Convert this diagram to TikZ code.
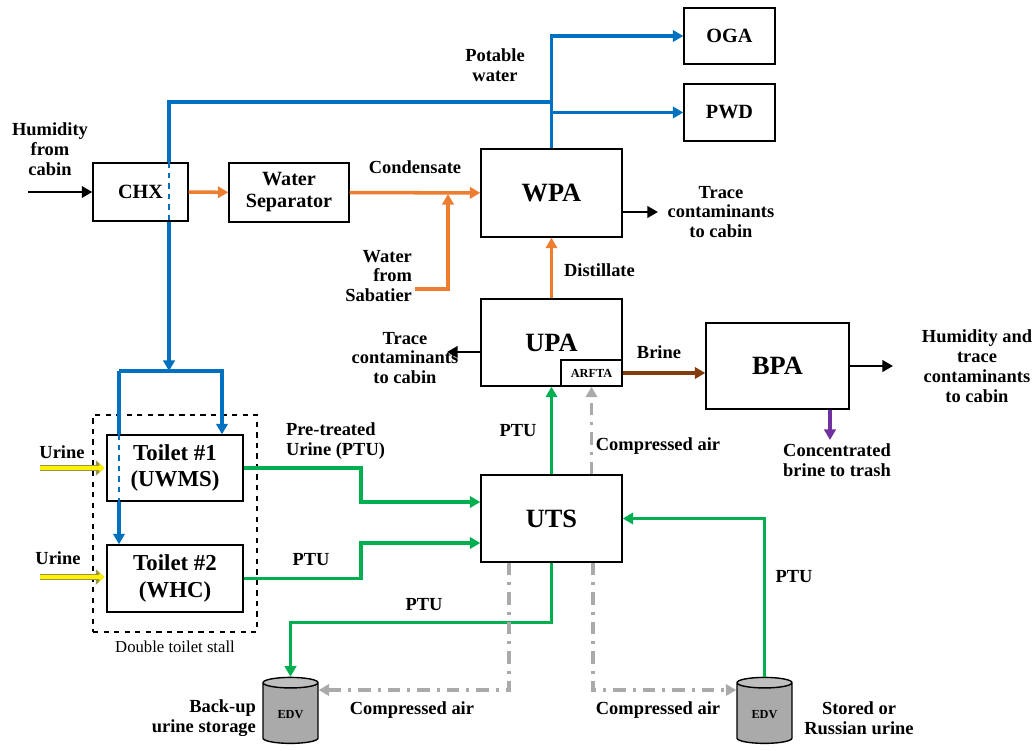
\documentclass[tikz,border=0pt]{standalone}
\usepackage{fontspec}
\setmainfont{Liberation Serif}
\usetikzlibrary{arrows.meta,positioning,calc,shapes.geometric}
\definecolor{h2oblue}{RGB}{0,112,192}
\definecolor{h2oorange}{RGB}{237,125,49}
\definecolor{ptugreen}{RGB}{0,176,80}
\definecolor{brinebrown}{RGB}{133,60,12}
\definecolor{trashpurple}{RGB}{112,48,160}
\definecolor{airgray}{RGB}{170,170,170}

\begin{document}
\begin{tikzpicture}[x=0.02cm, y=-0.02cm,
    box/.style={draw, line width=0.8pt, align=center, font=\fontsize{11.5}{12.5}\selectfont\bfseries},
    big/.style={box, font=\fontsize{15}{17}\selectfont\bfseries},
    toil/.style={box, font=\fontsize{13}{15}\selectfont\bfseries},
    edv/.style={cylinder, shape border rotate=90, aspect=0.28, draw, line width=0.8pt, cylinder uses custom fill, cylinder body fill=airgray, cylinder end fill=black!25, minimum height=1.32cm, minimum width=1.1cm, font=\fontsize{7}{8}\selectfont\bfseries},
    lbl/.style={align=center, text=black, font=\fontsize{10.5}{11.3}\selectfont\bfseries, inner sep=1pt},
    tip/.style={-{Triangle[length=6pt,width=6.5pt]}},
    arr/.style={tip, line width=1.4pt},
    bline/.style={line width=2pt, h2oblue},
    barr/.style={bline, tip},
    oarr/.style={tip, line width=2pt, h2oorange},
    garr/.style={tip, line width=2pt, ptugreen},
    brarr/.style={tip, line width=2pt, brinebrown},
    parr/.style={tip, line width=2pt, trashpurple},
    aarr/.style={tip, line width=2pt, airgray, dash pattern=on 7pt off 4pt on 1.8pt off 4pt},
    uarr/.style={preaction={draw=black!45!yellow, line width=3.8pt, -{Triangle[length=5pt,width=8.5pt]}}, draw=yellow, line width=2.2pt, -{Triangle[length=3pt,width=5pt]}, shorten >=1pt}
]
\useasboundingbox (0,0) rectangle (1036,751);

% units
\node[box, minimum width=1.9cm, minimum height=1.16cm] (chx) at (140.5,192) {CHX};
\node[box, minimum width=2.4cm, minimum height=1.18cm] (sep) at (289,192.5) {Water\\Separator};
\node[big, minimum width=2.82cm, minimum height=1.76cm] (wpa) at (551.5,193) {WPA};
\node[box, minimum width=1.82cm, minimum height=1.12cm] (oga) at (729.5,36) {OGA};
\node[box, minimum width=1.82cm, minimum height=1.14cm] (pwd) at (729.5,112.5) {PWD};
\node[big, minimum width=2.82cm, minimum height=1.74cm] (upa) at (551.5,342.5) {UPA};
\node[draw, line width=0.8pt, anchor=south east, minimum width=1.22cm, minimum height=0.52cm, font=\fontsize{7}{8}\selectfont\bfseries] (arfta) at (upa.south east) {ARFTA};
\node[big, minimum width=2.86cm, minimum height=1.72cm] (bpa) at (777.5,366) {BPA};
\node[big, minimum width=2.82cm, minimum height=1.74cm] (uts) at (551.5,518.5) {UTS};
\node[toil, minimum width=2.72cm, minimum height=1.32cm] (t1) at (175,468) {Toilet \#1\\(UWMS)};
\node[toil, minimum width=2.72cm, minimum height=1.34cm] (t2) at (175,578.5) {Toilet \#2\\(WHC)};
\node[draw, dashed, line width=0.7pt, minimum width=3.28cm, minimum height=4.34cm] (stall) at (175,523.5) {};
\node[font=\fontsize{9.5}{11}\selectfont, below=1pt of stall] (stalltxt) {Double toilet stall};
\node[edv] (edv1) at (290.5,715) {EDV};
\node[edv] (edv2) at (764.5,715) {EDV};

% labels
\node[lbl] (humin) at (50,149) {Humidity\\from\\cabin};
\node[lbl] (potable) at (495,65) {Potable\\water};
\node[lbl, align=right, anchor=east] (sabtxt) at (414,276) {Water\\from\\Sabatier};
\node[lbl] (tc1txt) at (721,212) {Trace\\contaminants\\to cabin};
\node[lbl, anchor=west] (distil) at (562,270) {Distillate};
\node[lbl] (tc2txt) at (405,358) {Trace\\contaminants\\to cabin};
\node[lbl] (brine) at (659,352) {Brine};
\node[lbl] (humout) at (977,366) {Humidity and\\trace\\contaminants\\to cabin};
\node[lbl] (trash) at (837,460) {Concentrated\\brine to trash};
\node[lbl, align=left, anchor=west] (pretxt) at (284,441) {Pre-treated\\Urine (PTU)};
\node[lbl] (ptu1) at (311,560) {PTU};
\node[lbl] (ptu2) at (518,431) {PTU};
\node[lbl] (ptu3) at (424,605) {PTU};
\node[lbl] (ptu4) at (794,577) {PTU};
\node[lbl] (air1) at (658,446) {Compressed air};
\node[lbl] (air2) at (412,710) {Compressed air};
\node[lbl] (air3) at (658,710) {Compressed air};
\node[lbl, align=right, anchor=east] (backup) at (258,718) {Back-up\\urine storage};
\node[lbl] (stored) at (859,718) {Stored or\\Russian urine};
\node[lbl] (urine1) at (62,452) {Urine};
\node[lbl] (urine2) at (58,558) {Urine};

% free ends
\coordinate (hin) at (28,192);
\coordinate (pw) at (169,102);
\coordinate (split) at (169,371);
\coordinate (sl) at (119,371);
\coordinate (sr) at (222,371);
\coordinate (sab) at (415,289);
\coordinate (mrg) at (448,194);
\coordinate (tc1) at (658,212);
\coordinate (tc2) at (447,352);
\coordinate (hout) at (893,366);
\coordinate (bin) at (830,440);
\coordinate (g1) at (361,502);
\coordinate (g2) at (361,543);
\coordinate (ca1) at (509,690);
\coordinate (ca2) at (593,690);
\coordinate (u1) at (40,468);
\coordinate (u2) at (40,577);

% water
\draw[arr] (hin) -- (chx);
\draw[barr] (wpa.north) |- (oga.west);
\draw[barr] (wpa.north |- pwd.west) -- (pwd.west);
\draw[bline] (wpa.north |- pw) -- (pw) -- (pw |- chx.north);
\draw[bline, dashed, line width=1pt] (pw |- chx.north) -- (pw |- chx.south);
\draw[barr] (pw |- chx.south) -- (split);
\draw[barr] (sl) -- (sr) -- (sr |- t1.north);
\draw[bline] (sl) -- (sl |- t1.north);
\draw[bline, dashed, line width=1pt] (sl |- t1.north) -- (sl |- t1.south);
\draw[barr] (sl |- t1.south) -- (sl |- t2.north);
\draw[oarr] (chx) -- (sep);
\draw[oarr] (sep) -- node[lbl, above=9pt] {Condensate} (wpa);
\draw[oarr] (sab) -| (mrg);
\draw[oarr] (upa) -- (wpa);
\draw[arr] (tc1 -| wpa.east) -- (tc1);
\draw[arr] (tc2 -| upa.west) -- (tc2);
\draw[arr] (bpa.east) -- (hout);
\draw[brarr] (arfta.east) -- (arfta.east -| bpa.west);
\draw[parr] (bin |- bpa.south) -- (bin);

% urine
\draw[uarr] (u1) -- (u1 -| t1.west);
\draw[uarr] (u2) -- (u2 -| t2.west);
\draw[garr] (t1.east) -| (g1) -- (g1 -| uts.west);
\draw[garr] (t2.east) -| (g2) -- (g2 -| uts.west);
\draw[garr] (uts.north) -- (upa.south);
\draw[garr] (uts.south) -- ++(0,60) -| (edv1.north);
\draw[garr] (edv2.north) |- (uts.east);

% air
\draw[aarr] (ca1 |- uts.south) -- (ca1) -- (ca1 -| edv1.east);
\draw[aarr] (ca2 |- uts.south) -- (ca2) -- (ca2 -| edv2.west);
\draw[aarr] (arfta.south |- uts.north) -- (arfta.south);
\end{tikzpicture}
\end{document}
